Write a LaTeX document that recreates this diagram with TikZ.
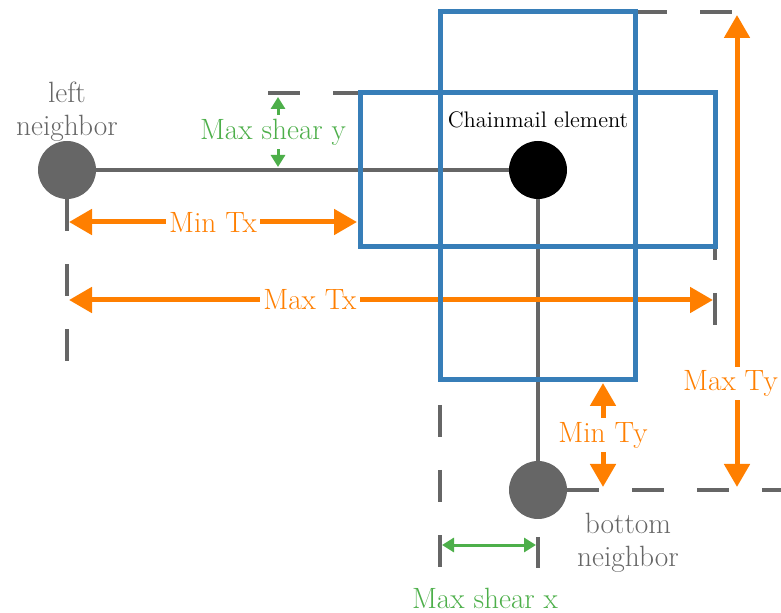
\documentclass[tikz,border=0pt]{standalone}
\usepackage{tikz}
\usetikzlibrary{arrows.meta,positioning}
\definecolor{linkgray}{RGB}{102,102,102}
\definecolor{boxblue}{RGB}{55,126,184}
\definecolor{limitorange}{RGB}{255,127,0}
\definecolor{sheargreen}{RGB}{77,175,74}
\newcommand{\labelsize}{\fontsize{16.7}{19}\selectfont}
\newcommand{\elemsize}{\fontsize{12.8}{14}\selectfont}

\begin{document}
\begin{tikzpicture}[
  joint/.style={circle,fill=linkgray,minimum size=1.16cm,inner sep=0pt},
  link/.style={line width=0.08cm,color=linkgray},
  guide/.style={line width=0.08cm,color=linkgray,dash pattern=on 0.64cm off 0.66cm},
  window/.style={line width=0.1cm,color=boxblue},
  limitarrow/.style={{Triangle[length=0.46cm,width=0.5cm]}-{Triangle[length=0.46cm,width=0.5cm]},
    line width=0.1cm,color=limitorange},
  sheararrow/.style={{Triangle[length=0.24cm,width=0.28cm]}-{Triangle[length=0.24cm,width=0.28cm]},
    line width=0.06cm,color=sheargreen},
  labeltag/.style={font=\labelsize,fill=white,inner sep=2pt}]
\useasboundingbox (0,0) rectangle (15.62,12.24);
% the element and its two neighbors
\node[joint] (left) at (1.34,8.84) {};
\node[circle,fill=black,minimum size=1.16cm,inner sep=0pt] (elem) at (10.76,8.84) {};
\node[joint] (bottom) at (10.76,2.44) {};
\node[font=\labelsize,color=linkgray,align=center] (leftname) at (1.34,10.0) {left\\neighbor};
\node[font=\labelsize,color=linkgray,align=center] (bottomname) at (12.56,1.38) {bottom\\neighbor};
\node[font=\elemsize,above=0.12cm of elem] (elemname) {Chainmail element};
% dashed guides
\draw[guide] (5.36,10.38)--(7.30,10.38);
\draw[guide] (12.70,12.00)--(14.66,12.00);
\draw[guide] (left.south)--(1.34,5.00);
\draw[guide] (14.30,7.68)--(14.30,5.74);
\draw[guide] (8.80,4.14)--(8.80,0.88);
\draw[link] (10.76,1.50)--(10.76,0.88);
\draw[guide] (bottom.east)--(15.62,2.44);
\draw[link] (left)--(elem);
\draw[link] (elem)--(bottom);
% translation limits
\coordinate (txa) at (1.38,7.80); \coordinate (txb) at (7.14,7.80);
\coordinate (txc) at (1.38,6.24); \coordinate (txd) at (14.26,6.24);
\coordinate (tya) at (14.74,11.94); \coordinate (tyb) at (14.74,2.50);
\coordinate (tyc) at (12.06,4.58); \coordinate (tyd) at (12.06,2.50);
\draw[limitarrow] (txa)--(txb) node[labeltag,midway] (mintx) {Min Tx};
\draw[limitarrow] (txc)--(txd) node[labeltag,pos=0.374] (maxtx) {Max Tx};
\draw[limitarrow] (tya)--(tyb) node[labeltag,pos=0.78,xshift=-0.13cm] (maxty) {Max Ty};
\draw[limitarrow] (tyc)--(tyd) node[labeltag,midway] (minty) {Min Ty};
% shear limits
\coordinate (sya) at (5.56,10.30); \coordinate (syb) at (5.56,8.90);
\coordinate (sxa) at (8.84,1.34); \coordinate (sxb) at (10.72,1.34);
\draw[sheararrow] (sya)--(syb) node[labeltag,midway,xshift=-0.1cm] (sheary) {Max shear y};
\draw[sheararrow] (sxa)--(sxb);
\node[font=\labelsize,color=sheargreen] (shearx) at (9.70,0.28) {Max shear x};
% allowed positions of the element
\draw[window] (8.80,4.64) rectangle (12.70,12.00);
\draw[window] (7.20,7.30) rectangle (14.30,10.38);
\end{tikzpicture}
\end{document}
